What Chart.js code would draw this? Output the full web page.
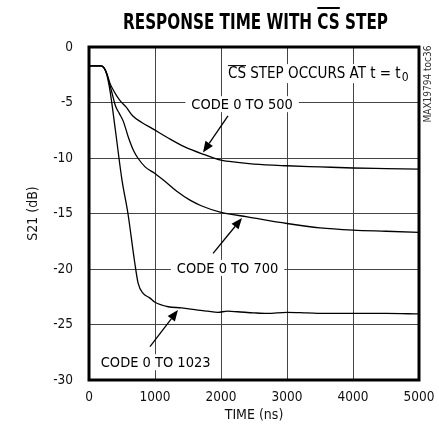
<!DOCTYPE html>
<html lang="en">
<head>
<meta charset="UTF-8">
<title>Response Time with CS Step</title>
<script src="https://cdn.jsdelivr.net/npm/chart.js"></script>
<style>
body { margin: 0; background: #fff; }
.wrap { width: 439px; height: 438px; }
</style>
</head>
<body>
<div class="wrap"><canvas id="chart" width="439" height="438"></canvas></div>
<script>
const FONT = '"DejaVu Sans Condensed", "Liberation Sans Narrow", sans-serif';

// S21 settling after the CS step, one trace per code change
const time500 = [0, 180, 230, 270, 320, 370, 420, 480, 560, 660, 800, 960, 1200, 1450, 1750, 2000, 2250, 2500, 3000, 3500, 4000, 4500, 5000];
const s21Code500 = [-1.7, -1.7, -1.9, -2.4, -3.3, -3.9, -4.4, -4.9, -5.4, -6.2, -6.8, -7.35, -8.2, -9.0, -9.7, -10.2, -10.4, -10.55, -10.7, -10.8, -10.9, -10.95, -11.0];

const time700 = [0, 180, 230, 270, 320, 360, 400, 460, 520, 600, 680, 740, 850, 1000, 1150, 1330, 1530, 1700, 2000, 2400, 3000, 3500, 4000, 4500, 5000];
const s21Code700 = [-1.7, -1.7, -1.9, -2.4, -3.5, -4.4, -5.3, -6.0, -6.7, -8.2, -9.4, -10.0, -10.8, -11.4, -12.1, -13.0, -13.8, -14.3, -14.9, -15.3, -15.9, -16.3, -16.5, -16.6, -16.7];

const time1023 = [0, 180, 230, 270, 320, 400, 500, 590, 690, 745, 820, 920, 1000, 1200, 1400, 1650, 1800, 1950, 2100, 2250, 2500, 2700, 3000, 3300, 3600, 4000, 4500, 5000];
const s21Code1023 = [-1.7, -1.7, -1.9, -2.5, -4.0, -7.5, -12.0, -15.0, -19.3, -21.3, -22.2, -22.6, -23.0, -23.4, -23.5, -23.7, -23.8, -23.9, -23.8, -23.85, -23.95, -24.0, -23.9, -23.95, -24.0, -24.0, -24.0, -24.05];

const xTicks = [0, 1000, 2000, 3000, 4000, 5000];
const yTicks = [0, -5, -10, -15, -20, -25, -30];

function points(xs, ys) {
    return xs.map((t, i) => ({ x: t, y: ys[i] }));
}

function trace(xs, ys) {
    return {
        data: points(xs, ys),
        borderColor: '#000',
        borderWidth: 1.3,
        pointRadius: 0,
        fill: false,
        cubicInterpolationMode: 'monotone'
    };
}

// callout text (data coordinates of the label centre) and their arrows
const notes = [
    { text: 'CODE 0 TO 500', x: 2320, y: -5.15 },
    { text: 'CODE 0 TO 700', x: 2100, y: -19.9 },
    { text: 'CODE 0 TO 1023', x: 1010, y: -28.4 }
];
const arrows = [
    { from: [2106, -6.2], to: [1727, -9.5] },
    { from: [1880, -18.6], to: [2318, -15.4] },
    { from: [924, -27.0], to: [1348, -23.7] }
];

function drawArrow(ctx, x1, y1, x2, y2) {
    const ang = Math.atan2(y2 - y1, x2 - x1);
    const len = 11, half = 4.5;
    const bx = x2 - len * Math.cos(ang), by = y2 - len * Math.sin(ang);
    ctx.beginPath();
    ctx.moveTo(x1, y1);
    ctx.lineTo(bx, by);
    ctx.lineWidth = 1.3;
    ctx.stroke();
    ctx.beginPath();
    ctx.moveTo(x2, y2);
    ctx.lineTo(bx + half * Math.sin(ang), by - half * Math.cos(ang));
    ctx.lineTo(bx - half * Math.sin(ang), by + half * Math.cos(ang));
    ctx.closePath();
    ctx.fill();
}

const overlay = {
    id: 'overlay',
    afterDatasetsDraw(chart) {
        const { ctx, chartArea: a, scales: { x, y } } = chart;
        ctx.save();
        ctx.font = '14.5px ' + FONT;
        ctx.textBaseline = 'middle';
        ctx.fillStyle = '#000';
        ctx.strokeStyle = '#000';

        notes.forEach(n => {
            const px = x.getPixelForValue(n.x), py = y.getPixelForValue(n.y);
            const w = ctx.measureText(n.text).width;
            ctx.fillStyle = '#fff';
            ctx.fillRect(px - w / 2 - 6, py - 8, w + 12, 16);
            ctx.fillStyle = '#000';
            ctx.textAlign = 'center';
            ctx.fillText(n.text, px, py + 1);
        });

        // CS step note with overline and subscript
        ctx.font = '15px ' + FONT;
        const sx = x.getPixelForValue(2106), sy = y.getPixelForValue(-2.35);
        const main = 'CS STEP OCCURS AT t = t';
        const mw = ctx.measureText(main).width;
        ctx.textAlign = 'left';
        ctx.fillStyle = '#fff';
        ctx.fillRect(sx - 4, sy - 9, mw + 16, 19);
        ctx.fillStyle = '#000';
        ctx.fillText(main, sx, sy + 1);
        const csw = ctx.measureText('CS').width;
        ctx.font = '12px ' + FONT;
        ctx.fillText('0', sx + mw + 1, sy + 5);
        ctx.lineWidth = 1;
        ctx.beginPath();
        ctx.moveTo(sx, sy - 7.5);
        ctx.lineTo(sx + csw, sy - 7.5);
        ctx.stroke();

        arrows.forEach(r => {
            drawArrow(ctx,
                x.getPixelForValue(r.from[0]), y.getPixelForValue(r.from[1]),
                x.getPixelForValue(r.to[0]), y.getPixelForValue(r.to[1]));
        });

        // heavy plot frame
        ctx.lineWidth = 3;
        ctx.strokeRect(a.left, a.top, a.right - a.left, a.bottom - a.top);
        ctx.restore();
    },
    afterDraw(chart) {
        const { ctx } = chart;
        ctx.save();
        ctx.fillStyle = '#000';
        ctx.font = 'bold 22px ' + FONT;
        ctx.textBaseline = 'alphabetic';
        ctx.textAlign = 'left';
        const title = 'RESPONSE TIME WITH CS STEP';
        // squeeze the heading to a condensed width
        const tw = ctx.measureText(title).width;
        const sq = 265 / tw;
        const tx = 255.5 - 265 / 2, ty = 29;
        const pre = ctx.measureText('RESPONSE TIME WITH ').width;
        const cs = ctx.measureText('CS').width;
        ctx.save();
        ctx.translate(tx, ty);
        ctx.scale(sq, 1);
        ctx.fillText(title, 0, 0);
        ctx.fillRect(pre, -22, cs, 2);
        ctx.restore();

        ctx.translate(428, 84);
        ctx.rotate(-Math.PI / 2);
        ctx.font = '10px ' + FONT;
        ctx.fillStyle = '#333';
        ctx.textAlign = 'center';
        ctx.textBaseline = 'middle';
        ctx.fillText('MAX19794 toc36', 0, 0);
        ctx.restore();
    }
};

new Chart(document.getElementById('chart'), {
    type: 'scatter',
    data: {
        datasets: [
            trace(time500, s21Code500),
            trace(time700, s21Code700),
            trace(time1023, s21Code1023)
        ]
    },
    options: {
        responsive: false,
        animation: false,
        devicePixelRatio: 1,
        showLine: true,
        layout: { padding: { left: 0, right: 20, top: 47, bottom: 0 } },
        plugins: { legend: { display: false }, tooltip: { enabled: false } },
        scales: {
            x: {
                type: 'linear',
                min: 0,
                max: 5000,
                afterBuildTicks: s => { s.ticks = xTicks.map(v => ({ value: v })); },
                afterFit: s => { s.height = 58; s.paddingLeft = 0; s.paddingRight = 0; },
                grid: { color: '#444', lineWidth: 1, drawTicks: false },
                border: { display: false },
                ticks: {
                    color: '#111',
                    padding: 9,
                    font: { size: 13.5, family: FONT },
                    callback: v => String(v)
                },
                title: {
                    display: true,
                    text: 'TIME (ns)',
                    color: '#111',
                    font: { size: 14, family: FONT },
                    padding: { top: 0, bottom: 14 }
                }
            },
            y: {
                type: 'linear',
                min: -30,
                max: 0,
                afterBuildTicks: s => { s.ticks = yTicks.map(v => ({ value: v })); },
                afterFit: s => { s.width = 89; s.paddingTop = 0; s.paddingBottom = 0; },
                grid: { color: '#444', lineWidth: 1, drawTicks: false },
                border: { display: false },
                ticks: {
                    color: '#111',
                    padding: 16,
                    font: { size: 13.5, family: FONT },
                    callback: v => String(v)
                },
                title: {
                    display: true,
                    text: 'S21 (dB)',
                    color: '#111',
                    font: { size: 14, family: FONT },
                    padding: { top: 25, bottom: 0 }
                }
            }
        }
    },
    plugins: [overlay]
});
</script>
</body>
</html>
